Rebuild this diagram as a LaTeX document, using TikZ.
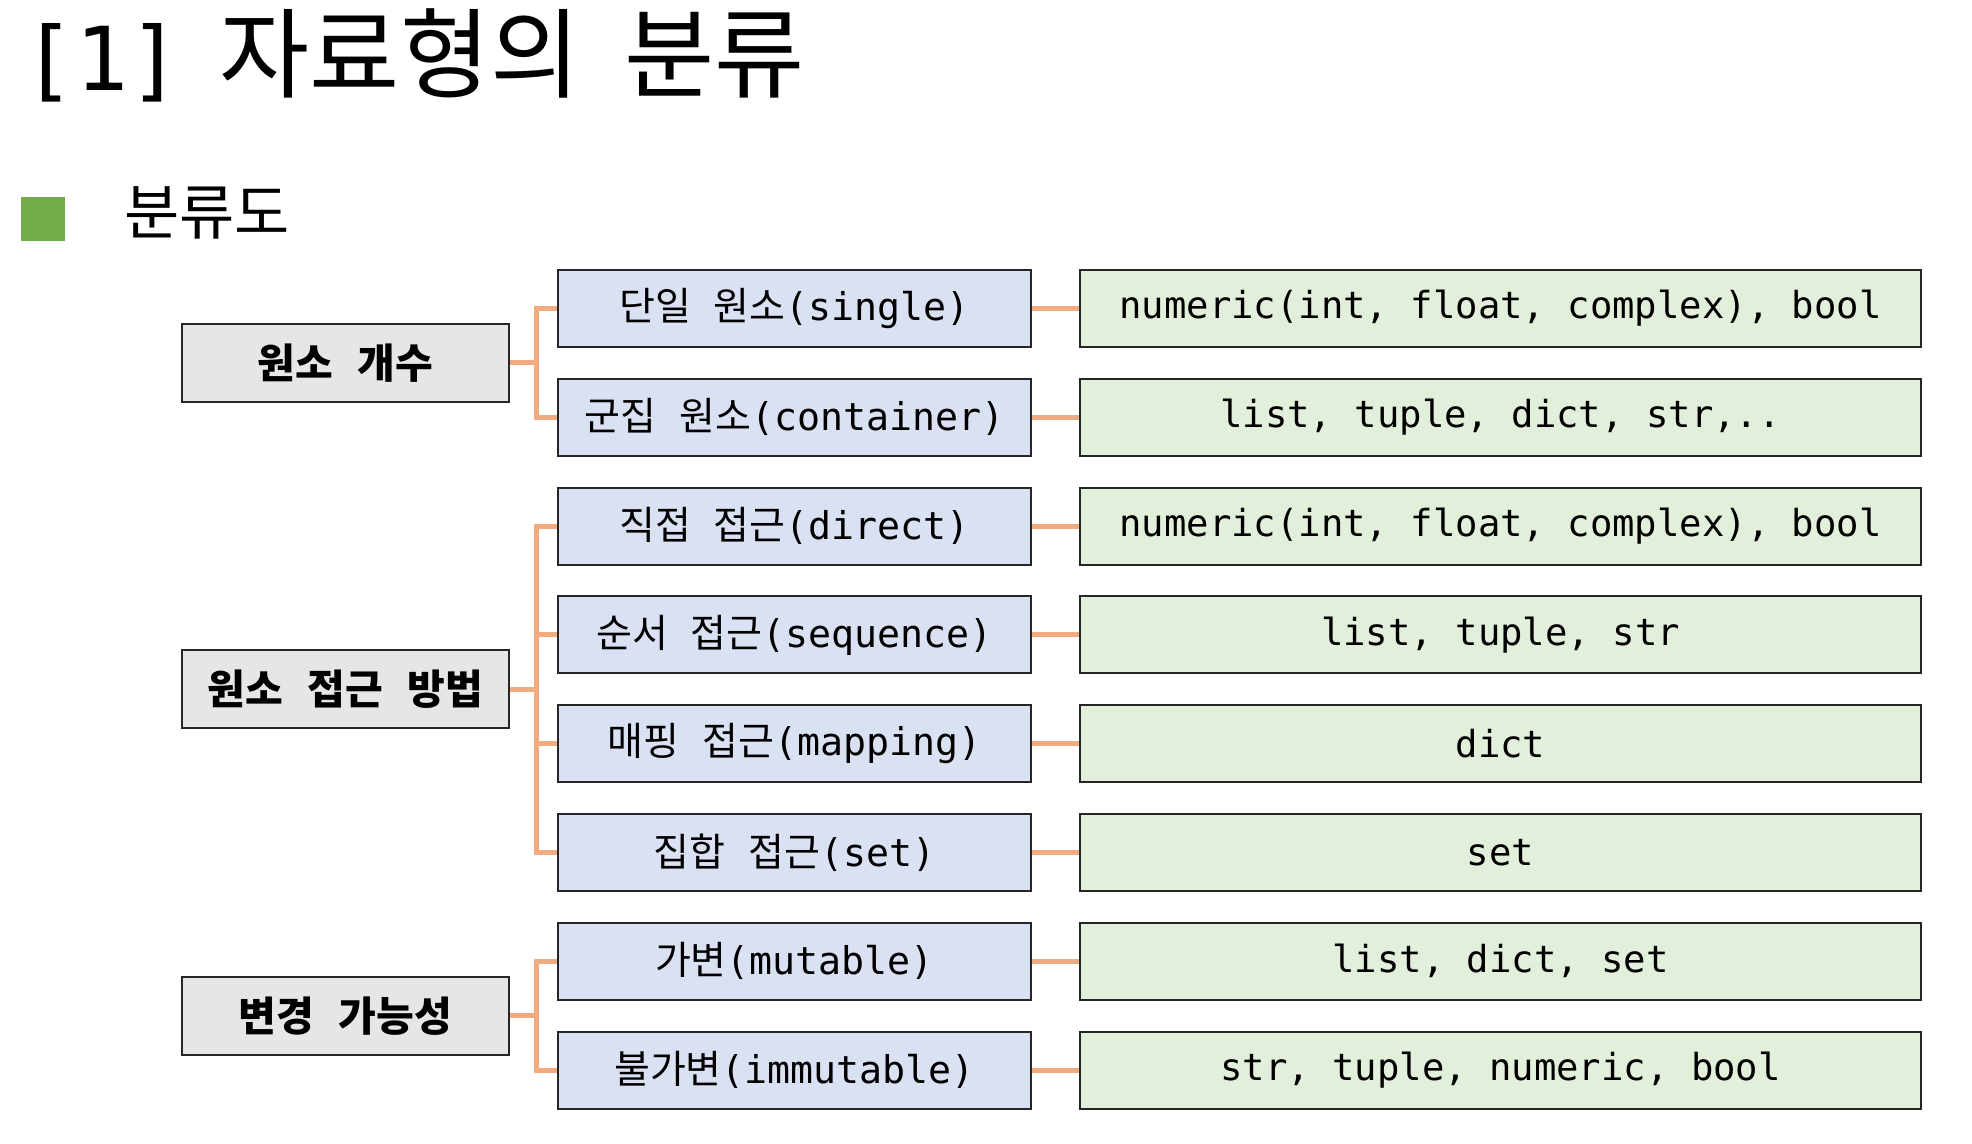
\documentclass[tikz,border=0pt]{standalone}
\usepackage{fontspec}
\setmainfont{Noto Sans CJK KR}[WordSpace=2.6]
\newfontfamily\monofont[Scale=0.98]{DejaVu Sans Mono}
\usepackage{xcolor}
\usetikzlibrary{positioning, calc}

\definecolor{grayfill}{HTML}{E7E6E6}
\definecolor{bluefill}{HTML}{D9E1F2}
\definecolor{greenfill}{HTML}{E2EFDA}
\definecolor{linkorange}{HTML}{F1AB7E}
\definecolor{bulletgreen}{HTML}{70AD47}

\newcommand{\en}[1]{{\monofont #1}}

\begin{document}
\begin{tikzpicture}[
  x=0.5pt, y=-0.5pt,
  node distance = 14.9pt and 23.5pt,
  group/.style  = {draw=black!85, line width=1pt, fill=grayfill,
                   minimum width=163.5pt, minimum height=39pt,
                   inner sep=0pt, font=\fontsize{20.5}{24}\selectfont\bfseries},
  kind/.style   = {draw=black!85, line width=1pt, fill=bluefill,
                   minimum width=236.5pt, minimum height=38.5pt,
                   inner sep=0pt, font=\fontsize{19.5}{23}\selectfont},
  types/.style  = {draw=black!85, line width=1pt, fill=greenfill,
                   minimum width=420.5pt, minimum height=38.5pt,
                   inner sep=0pt, font=\fontsize{19}{23}\selectfont\monofont},
  link/.style   = {draw=linkorange, line width=2.5pt},
]
\useasboundingbox (0,0) rectangle (1972,1144);

% heading
\node[anchor=base west, inner sep=0pt, font=\fontsize{49}{56}\selectfont] (title) at (22,91)
  {{\fontsize{45}{52}\selectfont\monofont [1]}\hspace{19pt}자료형의\hspace{22pt}분류};
\node[fill=bulletgreen, minimum size=22pt, inner sep=0pt] (mark) at (43,219) {};
\node[anchor=west, inner sep=0pt, font=\fontsize{30}{34}\selectfont] (sub) at (124,213) {분류도};

% middle column
\node[kind] (sgl) at (794.5,308.5) {단일 원소\en{(single)}};
\node[kind, below=of sgl] (ctn) {군집 원소\en{(container)}};
\node[kind, below=of ctn] (dir) {직접 접근\en{(direct)}};
\node[kind, below=of dir] (seq) {순서 접근\en{(sequence)}};
\node[kind, below=of seq] (map) {매핑 접근\en{(mapping)}};
\node[kind, below=of map] (st)  {집합 접근\en{(set)}};
\node[kind, below=of st]  (mu)  {가변\en{(mutable)}};
\node[kind, below=of mu]  (imm) {불가변\en{(immutable)}};

% right column
\node[types, right=of sgl] (t-sgl) {numeric(int, float, complex), bool};
\node[types, right=of ctn] (t-ctn) {list, tuple, dict, str,..};
\node[types, right=of dir] (t-dir) {numeric(int, float, complex), bool};
\node[types, right=of seq] (t-seq) {list, tuple, str};
\node[types, right=of map] (t-map) {dict};
\node[types, right=of st]  (t-st)  {set};
\node[types, right=of mu]  (t-mu)  {list, dict, set};
\node[types, right=of imm] (t-imm) {str, tuple, numeric, bool};

% left column
\node[group, left=of $(sgl.west)!0.5!(ctn.west)$] (cnt) {원소 개수};
\node[group, left=of $(seq.west)!0.5!(map.west)$] (acc) {원소 접근 방법};
\node[group, left=of $(mu.west)!0.5!(imm.west)$]  (chg) {변경 가능성};

% tree lines
\foreach \k in {sgl, ctn}
  \draw[link] (cnt.east) -- ++(26,0) |- (\k.west);
\foreach \k in {dir, seq, map, st}
  \draw[link] (acc.east) -- ++(26,0) |- (\k.west);
\foreach \k in {mu, imm}
  \draw[link] (chg.east) -- ++(26,0) |- (\k.west);

\foreach \k in {sgl, ctn, dir, seq, map, st, mu, imm}
  \draw[link] (\k.east) -- (t-\k.west);

\end{tikzpicture}
\end{document}
